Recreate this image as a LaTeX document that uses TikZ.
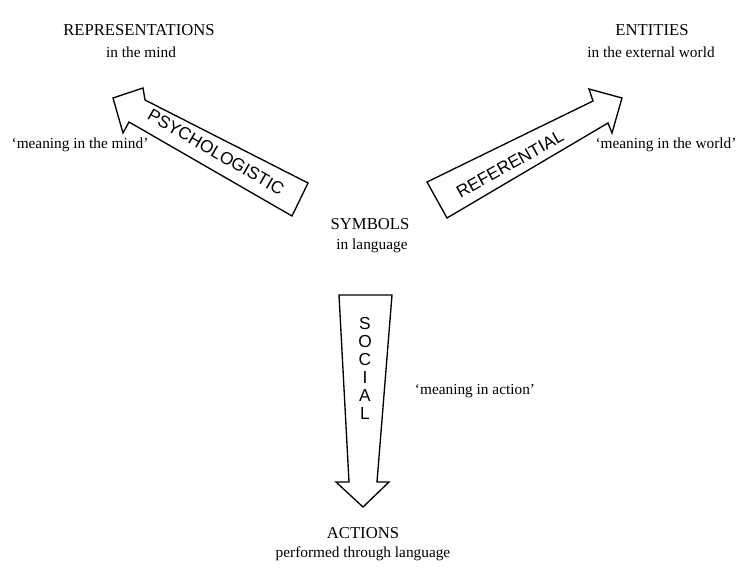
\documentclass[tikz,border=0pt]{standalone}
\usepackage{fontspec}
\setmainfont{Liberation Serif}
\newfontfamily\arrowfont{Liberation Sans}

\tikzset{
  fatarrow/.style={draw, line width=1pt, line join=miter, fill=white},
  pole/.style={anchor=base, font=\fontsize{12.5}{14}\selectfont},
  polesub/.style={anchor=base, font=\fontsize{11.5}{13}\selectfont},
  gloss/.style={anchor=base, font=\fontsize{11.5}{13}\selectfont},
  kind/.style={font=\arrowfont\fontsize{13}{13.5}\selectfont, inner sep=0pt},
}

\begin{document}
\begin{tikzpicture}[x=0.75pt,y=-0.75pt]
  \useasboundingbox (0,0) rectangle (745,571);

  % the three poles and the centre
  \node[pole] (repr) at (139,36) {REPRESENTATIONS};
  \node[polesub] (reprsub) at (141,57) {in the mind};
  \node[pole] (ent) at (652,36) {ENTITIES};
  \node[polesub] (entsub) at (651,57) {in the external world};
  \node[pole] (sym) at (370,229) {SYMBOLS};
  \node[polesub] (symsub) at (372,249) {in language};
  \node[pole] (act) at (363,538) {ACTIONS};
  \node[polesub] (actsub) at (363,557) {performed through language};

  % glosses
  \node[gloss] (mind) at (80,148) {‘meaning in the mind’};
  \node[gloss] (world) at (666,148) {‘meaning in the world’};
  \node[gloss] (action) at (475,394) {‘meaning in action’};

  % the arrows
  \begin{scope}
    \draw[fatarrow] (308,183) -- (145,100) -- (143,88) -- (113,98)
      -- (123,133) -- (129,122) -- (292,216) -- cycle;
    \draw[fatarrow] (427,182) -- (593,101) -- (589,89) -- (622,98)
      -- (612,133) -- (608,123) -- (447,218) -- cycle;
    \draw[fatarrow] (339,295) -- (392,295) -- (377,482) -- (389,482)
      -- (363,507) -- (336,482) -- (349,482) -- cycle;
  \end{scope}

  \node[kind, rotate=-30] (psy) at (216,152) {PSYCHOLOGISTIC};
  \node[kind, rotate=29] (ref) at (510,164) {REFERENTIAL};
  \node[kind, align=center] (soc) at (365,368) {S\\O\\C\\I\\A\\L};
\end{tikzpicture}
\end{document}
